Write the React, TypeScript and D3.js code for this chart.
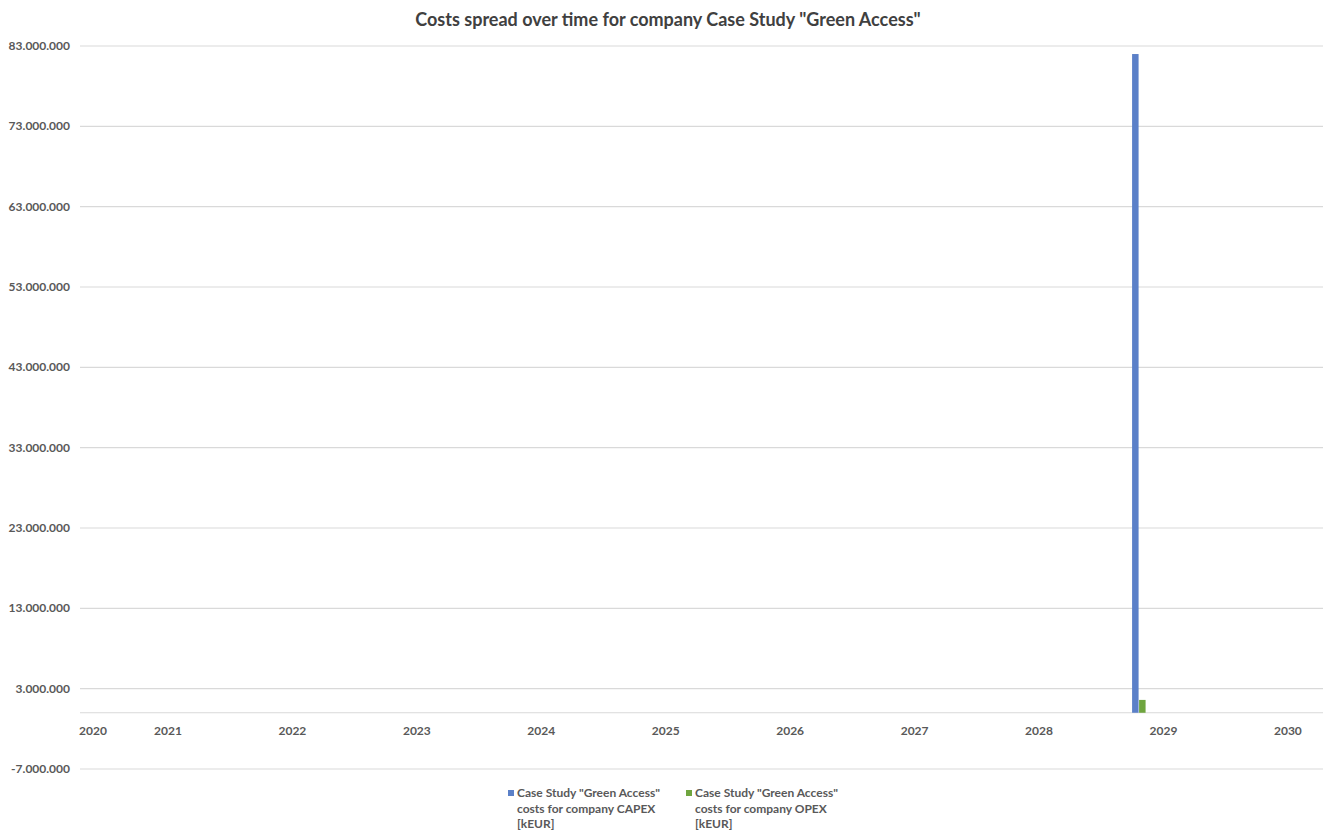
import React from "react";
import * as d3 from "d3";

// Decimal-year position of each cost entry, and its values in kEUR
const periods = [2028.8];
const capexValues = [82000000];
const opexValues = [1600000];
const seriesNames = [
  ['Case Study "Green Access"', "costs for company CAPEX", "[kEUR]"],
  ['Case Study "Green Access"', "costs for company OPEX", "[kEUR]"],
];
const seriesColors = ["#5b80c8", "#6fa53f"];
const yTicks = [-7000000, 3000000, 13000000, 23000000, 33000000, 43000000, 53000000, 63000000, 73000000, 83000000];
const yearTicks = [2020, 2021, 2022, 2023, 2024, 2025, 2026, 2027, 2028, 2029, 2030];

const W = 1323;
const H = 833;
const FONT = "Lato, 'Open Sans', sans-serif";

export default function App() {
  const left = 80;
  const right = 1323;
  const x = d3.scaleLinear().domain([2020.293, 2030.282]).range([left, right]);
  const y = d3.scaleLinear().domain([-7000000, 83000000]).range([769, 46]);
  const fmt = (v: number) => d3.format(",")(v).replace(/,/g, ".").replace("\u2212", "-");
  const barW = 6.5;
  const series = [capexValues, opexValues];

  return (
    <svg width={W} height={H} style={{ position: "absolute", left: 0, top: 0, background: "#fff" }} fontFamily={FONT}>
      <text x={668} y={26} textAnchor="middle" fontSize={18} fontWeight={700} fill="#404040">
        Costs spread over time for company Case Study "Green Access"
      </text>
      {yTicks.map((t) => (
        <g key={t}>
          <line x1={left} x2={right} y1={y(t)} y2={y(t)} stroke="#d9d9d9" strokeWidth={1.2} />
          <text x={70} y={y(t) + 4} textAnchor="end" fontSize={12} fontWeight={700} fill="#595959">
            {fmt(t)}
          </text>
        </g>
      ))}
      <line x1={left} x2={right} y1={y(0)} y2={y(0)} stroke="#d9d9d9" strokeWidth={1.2} />
      {yearTicks.map((t) => {
        const px = Math.max(x(t), left + 13);
        return (
          <text key={t} x={px} y={y(0) + 22} textAnchor="middle" fontSize={12} fontWeight={700} fill="#595959">
            {t}
          </text>
        );
      })}
      {series.map((vals, si) =>
        vals.map((v, i) => {
          const cx = x(periods[i]) + (si - 1) * barW + si * 0.5;
          return (
            <rect
              key={`${si}-${i}`}
              x={cx}
              y={y(v)}
              width={barW}
              height={y(0) - y(v)}
              fill={seriesColors[si]}
            />
          );
        })
      )}
      {seriesNames.map((lines, si) => {
        const lx = si === 0 ? 508 : 686;
        return (
          <g key={si}>
            <rect x={lx} y={790} width={6} height={6} fill={seriesColors[si]} />
            {lines.map((l, li) => (
              <text key={li} x={lx + 9} y={797 + li * 15.5} fontSize={12} fontWeight={700} fill="#595959">
                {l}
              </text>
            ))}
          </g>
        );
      })}
    </svg>
  );
}
